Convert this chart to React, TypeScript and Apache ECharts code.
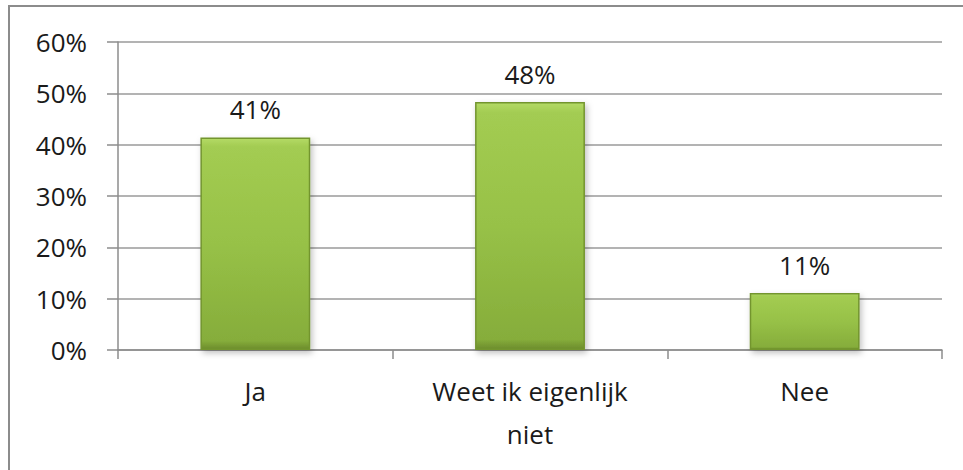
import React, { useEffect, useRef } from "react";
import * as echarts from "echarts";

const categories = ["Ja", "Weet ik eigenlijk\nniet", "Nee"];
const values = [41.4, 48.3, 11.1];
const yTicks = [0, 10, 20, 30, 40, 50, 60];

export default function App() {
  const ref = useRef<HTMLDivElement>(null);
  useEffect(() => {
    const chart = echarts.init(ref.current!, null, { renderer: "svg" });
    const font = "'Open Sans', 'Noto Sans', sans-serif";
    chart.setOption({
      animation: false,
      backgroundColor: "#ffffff",
      graphic: [
        {
          type: "rect",
          shape: { x: 9, y: 6, width: 1000, height: 500 },
          style: { fill: "none", stroke: "#8c8c8c", lineWidth: 2 },
          silent: true,
        },
      ],
      grid: { left: 118, right: 21, top: 42, bottom: 120, containLabel: false },
      xAxis: {
        type: "category",
        data: categories,
        axisLine: { show: true, lineStyle: { color: "#8c8c8c", width: 1.5 } },
        axisTick: { show: true, length: 9, alignWithLabel: false, lineStyle: { color: "#8c8c8c", width: 1.5 } },
        axisLabel: {
          color: "#1a1a1a",
          fontFamily: font,
          fontSize: 26,
          margin: 19,
          lineHeight: 43,
        },
      },
      yAxis: {
        type: "value",
        min: yTicks[0],
        max: yTicks[yTicks.length - 1],
        interval: 10,
        axisLine: { show: true, lineStyle: { color: "#8c8c8c", width: 1.5 } },
        axisTick: { show: true, length: 11, lineStyle: { color: "#8c8c8c", width: 1.5 } },
        splitLine: { show: true, lineStyle: { color: "#9a9a9a", width: 1.5 } },
        axisLabel: {
          color: "#1a1a1a",
          fontFamily: font,
          fontSize: 26,
          margin: 31,
          formatter: (v: number) => v + "%",
        },
      },
      series: [
        {
          type: "bar",
          data: values,
          barWidth: "40%",
          itemStyle: {
            color: new echarts.graphic.LinearGradient(0, 0, 0, 1, [
              { offset: 0, color: "#b4da66" },
              { offset: 0.04, color: "#a3cc52" },
              { offset: 0.5, color: "#97c147" },
              { offset: 0.96, color: "#86ad3b" },
              { offset: 1, color: "#6c8c2c" },
            ]),
            borderColor: "#73952f",
            borderWidth: 1.5,
            shadowColor: "rgba(0,0,0,0.25)",
            shadowBlur: 6,
            shadowOffsetX: 2,
            shadowOffsetY: 3,
          },
          label: {
            show: true,
            position: "top",
            distance: 15,
            color: "#1a1a1a",
            fontFamily: font,
            fontSize: 26,
            formatter: (p: any) => Math.round(p.value) + "%",
          },
        },
      ],
    });
    return () => chart.dispose();
  }, []);
  return (
    <div
      ref={ref}
      style={{ position: "fixed", left: 0, top: 0, width: 963, height: 470 }}
    />
  );
}
